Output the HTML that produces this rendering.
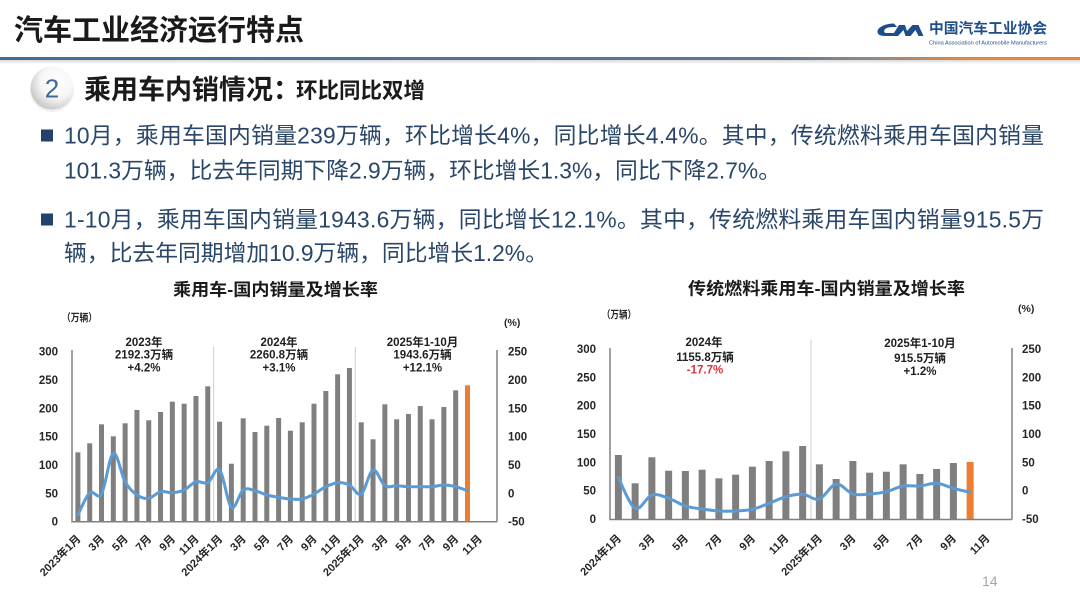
<!DOCTYPE html>
<html><head><meta charset="utf-8">
<style>
html,body{margin:0;padding:0;background:#fff;}
svg{display:block;}
text{font-family:"Liberation Sans","Noto Sans CJK SC",sans-serif;}
.b{font-weight:bold;}
.body{font-size:22.8px;fill:#2a4668;}
.yl{font-size:11.5px;font-weight:bold;fill:#262626;}
.xl{font-size:11px;font-weight:bold;fill:#262626;text-anchor:end;}
.an{font-size:11.5px;font-weight:bold;fill:#1f1f1f;text-anchor:middle;}
.ct{font-size:17px;font-weight:bold;fill:#1a1a1a;}
.un{font-size:10.5px;font-weight:bold;fill:#262626;}
.bar{fill:#7f7f7f;}
.or{fill:#ed7d31;}
.ln{fill:none;stroke:#5b9bd5;stroke-width:3;stroke-linejoin:round;stroke-linecap:round;}
.ax{stroke:#808080;stroke-width:1.5;fill:none;}
.sep{stroke:#c3d0de;stroke-width:1;}
</style></head>
<body>
<svg width="1080" height="607" viewBox="0 0 1080 607" xmlns="http://www.w3.org/2000/svg">
<defs>
<linearGradient id="hl" x1="0" x2="1" y1="0" y2="0">
<stop offset="0" stop-color="#3f6d98"/>
<stop offset="0.72" stop-color="#5f7890"/>
<stop offset="0.80" stop-color="#8a8a8a"/>
<stop offset="0.90" stop-color="#e3883e"/>
<stop offset="1" stop-color="#ea8536"/>
</linearGradient>
<radialGradient id="cg" cx="0.62" cy="0.35" r="0.7">
<stop offset="0" stop-color="#ffffff"/>
<stop offset="0.55" stop-color="#f6f6f6"/>
<stop offset="1" stop-color="#c4c4c4"/>
</radialGradient>
<linearGradient id="sh" x1="0" x2="0" y1="0" y2="1">
<stop offset="0" stop-color="#d8d8d8"/>
<stop offset="1" stop-color="#ffffff"/>
</linearGradient>
</defs>
<rect width="1080" height="607" fill="#fff"/>

<!-- Header -->
<text x="14" y="40" class="b" style="font-size:29px;fill:#1a1a1a;">汽车工业经济运行特点</text>
<rect x="0" y="60" width="1080" height="4" fill="url(#sh)"/>
<rect x="0" y="57" width="1080" height="3" fill="url(#hl)"/>

<!-- Logo -->
<path d="M894,23.5 C885,23.5 877.5,27.5 877.5,31.5 C877.5,35 880.5,36 886,36 L892,36 L894.5,33 L887.5,33 C884.5,33 883.5,32 884.5,30 C886,27.5 889,27 897,27 Z" fill="#1e4d8c"/>
<path d="M892,36 L899,25 L905,25 L907,31 L912.5,25 L918.5,25 L923.5,36 L918.5,36 L915.5,30 L910.5,36 L905.5,36 L903.5,30 L898,36 Z" fill="#1e4d8c"/>
<text x="929" y="33.5" class="b" style="font-size:14.5px;fill:#1f4e8c;" textLength="118" lengthAdjust="spacingAndGlyphs">中国汽车工业协会</text>
<text x="929" y="44.5" style="font-size:5px;fill:#1f4e8c;" textLength="118" lengthAdjust="spacingAndGlyphs">China Association of Automobile Manufacturers</text>

<!-- Section heading -->
<circle cx="52" cy="90" r="22" fill="#e2e2e2" opacity="0.6"/>
<circle cx="52" cy="88" r="21.5" fill="url(#cg)"/>
<text x="52" y="97.5" style="font-size:26px;fill:#3e6a9a;text-anchor:middle;">2</text>
<text x="84" y="99" class="b" style="font-size:27px;fill:#1a1a1a;">乘用车内销情况：</text>
<text x="296" y="98" class="b" style="font-size:21.5px;fill:#1a1a1a;">环比同比双增</text>

<!-- Bullets -->
<rect x="41" y="129.5" width="12" height="12" fill="#22426a"/>
<rect x="41" y="213.5" width="12" height="12" fill="#22426a"/>
<text x="64" y="143.5" class="body" textLength="980" lengthAdjust="spacing">10月，乘用车国内销量239万辆，环比增长4%，同比增长4.4%。其中，传统燃料乘用车国内销量</text>
<text x="64" y="178.5" class="body">101.3万辆，比去年同期下降2.9万辆，环比增长1.3%，同比下降2.7%。</text>
<text x="64" y="227.5" class="body" textLength="980" lengthAdjust="spacing">1-10月，乘用车国内销量1943.6万辆，同比增长12.1%。其中，传统燃料乘用车国内销量915.5万</text>
<text x="64" y="261" class="body">辆，比去年同期增加10.9万辆，同比增长1.2%。</text>

<!-- ============ LEFT CHART ============ -->
<text x="173" y="295.5" class="ct" textLength="205" lengthAdjust="spacingAndGlyphs">乘用车-国内销量及增长率</text>
<text x="62" y="321" class="un" textLength="35" lengthAdjust="spacingAndGlyphs">（万辆）</text>
<text x="504" y="326" class="un">(%)</text>

<text x="58" y="355.7" class="yl" text-anchor="end">300</text>
<text x="58" y="384" class="yl" text-anchor="end">250</text>
<text x="58" y="412.3" class="yl" text-anchor="end">200</text>
<text x="58" y="440.7" class="yl" text-anchor="end">150</text>
<text x="58" y="469" class="yl" text-anchor="end">100</text>
<text x="58" y="497.3" class="yl" text-anchor="end">50</text>
<text x="58" y="525.7" class="yl" text-anchor="end">0</text>
<text x="508" y="355.7" class="yl">250</text>
<text x="508" y="384" class="yl">200</text>
<text x="508" y="412.3" class="yl">150</text>
<text x="508" y="440.7" class="yl">100</text>
<text x="508" y="469" class="yl">50</text>
<text x="508" y="497.3" class="yl">0</text>
<text x="508" y="525.7" class="yl">-50</text>

<line class="sep" x1="213.7" y1="347" x2="213.7" y2="521"/>
<line class="sep" x1="355.3" y1="347" x2="355.3" y2="521"/>

<g>
<rect class="bar" x="75.40" y="452.3" width="5" height="69.4"/>
<rect class="bar" x="87.21" y="443.3" width="5" height="78.4"/>
<rect class="bar" x="99.01" y="424.3" width="5" height="97.4"/>
<rect class="bar" x="110.82" y="436.3" width="5" height="85.4"/>
<rect class="bar" x="122.63" y="423.3" width="5" height="98.4"/>
<rect class="bar" x="134.43" y="410" width="5" height="111.7"/>
<rect class="bar" x="146.24" y="420.3" width="5" height="101.4"/>
<rect class="bar" x="158.04" y="412" width="5" height="109.7"/>
<rect class="bar" x="169.85" y="401.7" width="5" height="120"/>
<rect class="bar" x="181.65" y="403.7" width="5" height="118"/>
<rect class="bar" x="193.46" y="396" width="5" height="125.7"/>
<rect class="bar" x="205.26" y="386.3" width="5" height="135.4"/>
<rect class="bar" x="217.07" y="421.7" width="5" height="100"/>
<rect class="bar" x="228.88" y="463.7" width="5" height="58"/>
<rect class="bar" x="240.68" y="418.3" width="5" height="103.4"/>
<rect class="bar" x="252.49" y="432" width="5" height="89.7"/>
<rect class="bar" x="264.29" y="425.7" width="5" height="96"/>
<rect class="bar" x="276.10" y="418" width="5" height="103.7"/>
<rect class="bar" x="287.90" y="430.7" width="5" height="91"/>
<rect class="bar" x="299.71" y="422.3" width="5" height="99.4"/>
<rect class="bar" x="311.51" y="403.7" width="5" height="118"/>
<rect class="bar" x="323.32" y="391" width="5" height="130.7"/>
<rect class="bar" x="335.13" y="374.3" width="5" height="147.4"/>
<rect class="bar" x="346.93" y="368" width="5" height="153.7"/>
<rect class="bar" x="358.74" y="422.3" width="5" height="99.4"/>
<rect class="bar" x="370.54" y="439.3" width="5" height="82.4"/>
<rect class="bar" x="382.35" y="404.3" width="5" height="117.4"/>
<rect class="bar" x="394.15" y="419.3" width="5" height="102.4"/>
<rect class="bar" x="405.96" y="414" width="5" height="107.7"/>
<rect class="bar" x="417.76" y="406" width="5" height="115.7"/>
<rect class="bar" x="429.57" y="419.3" width="5" height="102.4"/>
<rect class="bar" x="441.38" y="407" width="5" height="114.7"/>
<rect class="bar" x="453.18" y="390.3" width="5" height="131.4"/>
<rect class="or" x="464.99" y="385.3" width="5" height="136.4"/>
</g>

<polyline class="ln sm" points="77.9,515 89.7,492.7 101.5,494 113.3,453.3 125.1,481.7 136.9,495 148.7,498.3 160.5,491.7 172.4,492.7 184.2,490 196,481.7 207.8,482.7 219.6,470 231.4,507.3 243.2,490 255,490.7 266.8,495 278.6,497.3 290.4,499 302.2,499 314,494 325.8,486.7 337.6,482.7 349.4,485 361.2,494 373,470 384.9,485.7 396.7,485.7 408.5,486.7 420.3,486.7 432.1,486.7 443.9,485 455.7,486.7 467.5,490.7"/>

<path class="ax" d="M72,350 L72,521.7 L497,521.7 M497,350 L497,521.7"/>

<text x="144" y="346" class="an">2023年</text>
<text x="144" y="358.5" class="an">2192.3万辆</text>
<text x="144" y="371.5" class="an">+4.2%</text>
<text x="279" y="346" class="an">2024年</text>
<text x="279" y="358.5" class="an">2260.8万辆</text>
<text x="279" y="371.5" class="an">+3.1%</text>
<text x="422.5" y="346" class="an">2025年1-10月</text>
<text x="422.5" y="358.5" class="an">1943.6万辆</text>
<text x="422.5" y="371.5" class="an">+12.1%</text>

<g>
<text class="xl" transform="translate(81.4,539.5) rotate(-45)">2023年1月</text>
<text class="xl" transform="translate(105,539.5) rotate(-45)">3月</text>
<text class="xl" transform="translate(128.6,539.5) rotate(-45)">5月</text>
<text class="xl" transform="translate(152.2,539.5) rotate(-45)">7月</text>
<text class="xl" transform="translate(175.9,539.5) rotate(-45)">9月</text>
<text class="xl" transform="translate(199.5,539.5) rotate(-45)">11月</text>
<text class="xl" transform="translate(223.1,539.5) rotate(-45)">2024年1月</text>
<text class="xl" transform="translate(246.7,539.5) rotate(-45)">3月</text>
<text class="xl" transform="translate(270.3,539.5) rotate(-45)">5月</text>
<text class="xl" transform="translate(293.9,539.5) rotate(-45)">7月</text>
<text class="xl" transform="translate(317.5,539.5) rotate(-45)">9月</text>
<text class="xl" transform="translate(341.1,539.5) rotate(-45)">11月</text>
<text class="xl" transform="translate(364.7,539.5) rotate(-45)">2025年1月</text>
<text class="xl" transform="translate(388.4,539.5) rotate(-45)">3月</text>
<text class="xl" transform="translate(412,539.5) rotate(-45)">5月</text>
<text class="xl" transform="translate(435.6,539.5) rotate(-45)">7月</text>
<text class="xl" transform="translate(459.2,539.5) rotate(-45)">9月</text>
<text class="xl" transform="translate(482.8,539.5) rotate(-45)">11月</text>
</g>

<!-- ============ RIGHT CHART ============ -->
<text x="688" y="294.5" class="ct" textLength="277" lengthAdjust="spacingAndGlyphs">传统燃料乘用车-国内销量及增长率</text>
<text x="602" y="318" class="un" textLength="34" lengthAdjust="spacingAndGlyphs">（万辆）</text>
<text x="1018" y="312" class="un">(%)</text>

<text x="596" y="353" class="yl" text-anchor="end">300</text>
<text x="596" y="381.3" class="yl" text-anchor="end">250</text>
<text x="596" y="409.7" class="yl" text-anchor="end">200</text>
<text x="596" y="438" class="yl" text-anchor="end">150</text>
<text x="596" y="466.3" class="yl" text-anchor="end">100</text>
<text x="596" y="494.7" class="yl" text-anchor="end">50</text>
<text x="596" y="523" class="yl" text-anchor="end">0</text>
<text x="1022" y="353" class="yl">250</text>
<text x="1022" y="381.3" class="yl">200</text>
<text x="1022" y="409.7" class="yl">150</text>
<text x="1022" y="438" class="yl">100</text>
<text x="1022" y="466.3" class="yl">50</text>
<text x="1022" y="494.7" class="yl">0</text>
<text x="1022" y="523" class="yl">-50</text>

<line class="sep" x1="811" y1="340" x2="811" y2="519"/>

<g>
<rect class="bar" x="614.88" y="455" width="7" height="64.5"/>
<rect class="bar" x="631.63" y="483.3" width="7" height="36.2"/>
<rect class="bar" x="648.38" y="457.3" width="7" height="62.2"/>
<rect class="bar" x="665.13" y="470.7" width="7" height="48.8"/>
<rect class="bar" x="681.88" y="471" width="7" height="48.5"/>
<rect class="bar" x="698.63" y="469.7" width="7" height="49.8"/>
<rect class="bar" x="715.38" y="478.3" width="7" height="41.2"/>
<rect class="bar" x="732.13" y="474.7" width="7" height="44.8"/>
<rect class="bar" x="748.88" y="466.7" width="7" height="52.8"/>
<rect class="bar" x="765.63" y="461" width="7" height="58.5"/>
<rect class="bar" x="782.38" y="451.3" width="7" height="68.2"/>
<rect class="bar" x="799.13" y="446" width="7" height="73.5"/>
<rect class="bar" x="815.88" y="464.3" width="7" height="55.2"/>
<rect class="bar" x="832.63" y="479" width="7" height="40.5"/>
<rect class="bar" x="849.38" y="461" width="7" height="58.5"/>
<rect class="bar" x="866.13" y="472.7" width="7" height="46.8"/>
<rect class="bar" x="882.88" y="471.7" width="7" height="47.8"/>
<rect class="bar" x="899.63" y="464.3" width="7" height="55.2"/>
<rect class="bar" x="916.38" y="474" width="7" height="45.5"/>
<rect class="bar" x="933.13" y="469" width="7" height="50.5"/>
<rect class="bar" x="949.88" y="463" width="7" height="56.5"/>
<rect class="or" x="966.63" y="462" width="7" height="57.5"/>
</g>

<polyline class="ln sm" points="618.4,477.7 635.1,508.3 651.9,495 668.6,498.3 685.4,506 702.1,509 718.9,511 735.6,511 752.4,509.3 769.1,503.3 785.9,496.7 802.6,494.3 819.4,499 836.1,484 852.9,494 869.6,494 886.4,491.7 903.1,486 919.9,486 936.6,483.3 953.4,488.3 970.1,492.3"/>

<path class="ax" d="M610,348 L610,519.5 L1012,519.5 M1012,348 L1012,519.5"/>

<text x="704" y="346" class="an">2024年</text>
<text x="705" y="361" class="an">1155.8万辆</text>
<text x="705" y="373.5" class="an" style="fill:#e0313c;">-17.7%</text>
<text x="920" y="347" class="an">2025年1-10月</text>
<text x="920" y="362" class="an">915.5万辆</text>
<text x="920" y="375" class="an">+1.2%</text>

<g>
<text class="xl" transform="translate(621.9,539) rotate(-45)">2024年1月</text>
<text class="xl" transform="translate(655.4,539) rotate(-45)">3月</text>
<text class="xl" transform="translate(688.9,539) rotate(-45)">5月</text>
<text class="xl" transform="translate(722.4,539) rotate(-45)">7月</text>
<text class="xl" transform="translate(755.9,539) rotate(-45)">9月</text>
<text class="xl" transform="translate(789.4,539) rotate(-45)">11月</text>
<text class="xl" transform="translate(822.9,539) rotate(-45)">2025年1月</text>
<text class="xl" transform="translate(856.4,539) rotate(-45)">3月</text>
<text class="xl" transform="translate(889.9,539) rotate(-45)">5月</text>
<text class="xl" transform="translate(923.4,539) rotate(-45)">7月</text>
<text class="xl" transform="translate(956.9,539) rotate(-45)">9月</text>
<text class="xl" transform="translate(990.4,539) rotate(-45)">11月</text>
</g>

<!-- page number -->
<text x="982" y="586" style="font-size:14px;fill:#a6a6a6;">14</text>
</svg>
<script>
(function(){
  var pls=document.querySelectorAll('polyline.sm');
  for(var k=0;k<pls.length;k++){
    var pl=pls[k];
    var pts=pl.getAttribute('points').trim().split(/\s+/).map(function(s){var a=s.split(',');return [parseFloat(a[0]),parseFloat(a[1])];});
    var d='M'+pts[0][0]+','+pts[0][1];
    for(var i=0;i<pts.length-1;i++){
      var p0=pts[i-1]||pts[i],p1=pts[i],p2=pts[i+1],p3=pts[i+2]||p2;
      var c1x=p1[0]+(p2[0]-p0[0])/6,c1y=p1[1]+(p2[1]-p0[1])/6;
      var c2x=p2[0]-(p3[0]-p1[0])/6,c2y=p2[1]-(p3[1]-p1[1])/6;
      d+=' C'+c1x.toFixed(2)+','+c1y.toFixed(2)+' '+c2x.toFixed(2)+','+c2y.toFixed(2)+' '+p2[0]+','+p2[1];
    }
    var path=document.createElementNS('http://www.w3.org/2000/svg','path');
    path.setAttribute('d',d);
    path.setAttribute('class','ln');
    pl.parentNode.replaceChild(path,pl);
  }
})();
</script>
</body></html>
